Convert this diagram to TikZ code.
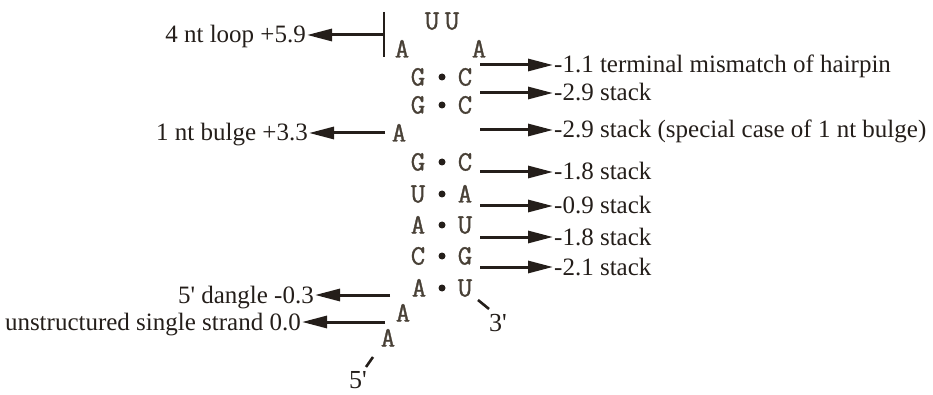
\documentclass[tikz,border=0pt]{standalone}
\usepackage{fontspec}
\setmainfont{Liberation Serif}
\newfontfamily\ntfont[FakeBold=1.2]{Latin Modern Mono}
\usetikzlibrary{arrows.meta}
\definecolor{ink}{RGB}{36,30,26}
\definecolor{ntink}{RGB}{72,64,54}
\newcommand{\pr}{\textquotesingle}
\tikzset{
  nt/.style={font=\ntfont\fontsize{28}{28}\selectfont, text=ntink, inner sep=0pt, text height=17pt, text depth=0pt},
  pairdot/.style={circle, fill=ink, inner sep=0pt, minimum size=7pt},
  lab/.style={font=\fontsize{25}{26}\selectfont, text=ink, inner sep=1pt, text height=17pt, text depth=1pt},
  arr/.style={draw=ink, line width=3pt, -{Triangle[length=25pt,width=12pt]}},
  tick/.style={draw=ink, line width=2.6pt},
}
\begin{document}
\begin{tikzpicture}[x=1pt,y=-1pt]
\useasboundingbox (0,0) rectangle (933,395);
% loop
\node[nt] (u1) at (432,21) {U};
\node[nt] (u2) at (452,21) {U};
\node[nt] (al) at (402,49) {A};
\node[nt] (ar) at (479,49) {A};
\coordinate (bartop) at (384,12);
\coordinate (barbot) at (384,57);
\coordinate (barmid) at (384,35);
\draw[tick] (bartop) -- (barbot);
% stem pairs
\foreach \n/\l/\r/\y in {1/G/C/77, 2/G/C/105, 3/G/C/162, 4/U/A/194, 5/A/U/225, 6/C/G/256} {
  \node[nt] (l\n) at (418,\y) {\l};
  \node[pairdot] (d\n) at (442,\y) {};
  \node[nt] (r\n) at (465,\y) {\r};
}
\node[nt] (l7) at (419,288) {A};
\node[pairdot] (d7) at (442,288) {};
\node[nt] (r7) at (465,288) {U};
\node[nt] (bulge) at (399,133) {A};
\node[nt] (a2) at (403,313) {A};
\node[nt] (a3) at (388,338) {A};
\node[font=\fontsize{26}{26}\selectfont, text=ink, inner sep=0pt] (three) at (498,323) {3\pr};
\node[font=\fontsize{26}{26}\selectfont, text=ink, inner sep=0pt] (five) at (358,380) {5\pr};
\coordinate (t3a) at (478,300);
\coordinate (t3b) at (489,309);
\draw[tick] (t3a) -- (t3b);
\coordinate (t5a) at (366,367);
\coordinate (t5b) at (373,357);
\draw[tick] (t5a) -- (t5b);
% right labels
\foreach \i/\y/\txt in {1/65/{-1.1 terminal mismatch of hairpin},
                       2/93/{-2.9 stack},
                       3/130/{-2.9 stack (special case of 1 nt bulge)},
                       4/172/{-1.8 stack},
                       5/206/{-0.9 stack},
                       6/237/{-1.8 stack},
                       7/267/{-2.1 stack}} {
  \node[lab, anchor=west] (rl\i) at (553,\y) {\txt};
  \coordinate (rt\i) at (480,\y);
  \draw[arr] (rt\i) -- (rl\i.west);
}
% left labels
\node[lab, anchor=east] (loop) at (307,35) {4 nt loop +5.9};
\draw[arr] (barmid) -- (loop.east);
\node[lab, anchor=east] (blg) at (309,133) {1 nt bulge +3.3};
\coordinate (blgt) at (385,133);
\draw[arr] (blgt) -- (blg.east);
\node[lab, anchor=east] (dng) at (315,295) {5\pr{} dangle -0.3};
\coordinate (dngt) at (390,295);
\draw[arr] (dngt) -- (dng.east);
\node[lab, anchor=east] (uss) at (302,322) {unstructured single strand 0.0};
\coordinate (usst) at (385,322);
\draw[arr] (usst) -- (uss.east);
\end{tikzpicture}
\end{document}
